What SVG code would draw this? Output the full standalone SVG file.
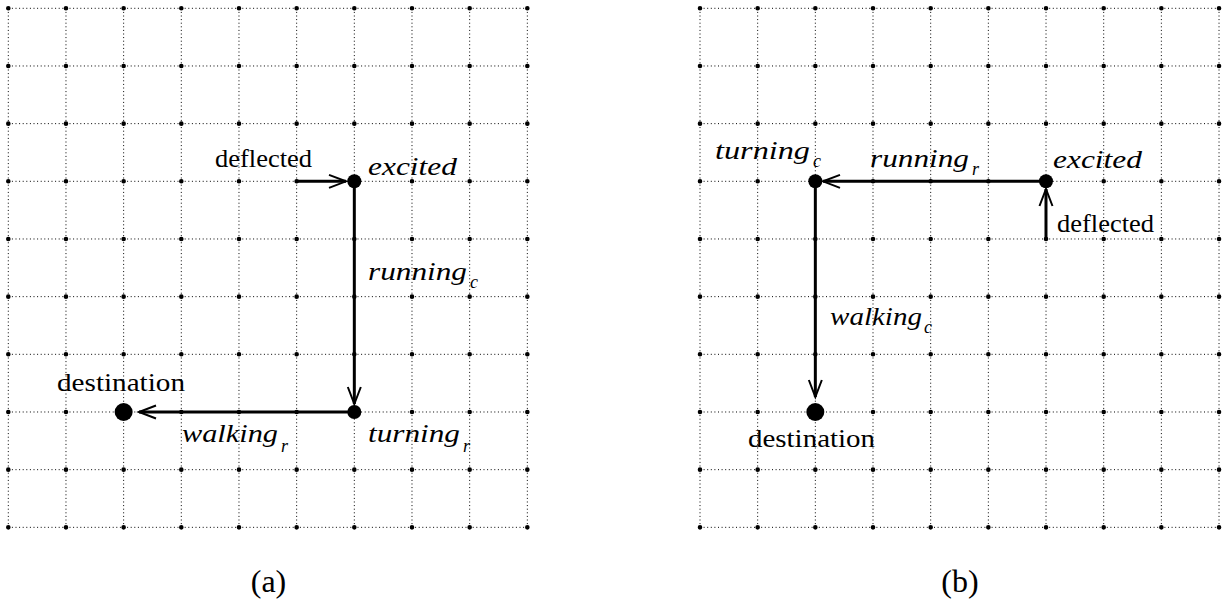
<svg xmlns="http://www.w3.org/2000/svg" xmlns:xlink="http://www.w3.org/1999/xlink" width="1225" height="599" viewBox="0 0 1225 599">
<style>
.gl{fill:none;stroke:#000;stroke-width:1;stroke-dasharray:1 2.6}
.gd{fill:none;stroke:#000;stroke-width:4.6;stroke-linecap:round;stroke-dasharray:0 57.67}
.edge{fill:none;stroke:#000;stroke-width:3}
.node{fill:#000}
text{font-family:'Liberation Serif','Times New Roman','DejaVu Serif',serif;fill:#000}
.rm{font-size:26px}
.it{font-size:26px;font-style:italic}
.sub{font-size:18px;font-style:italic}
.cap{font-size:32px}
</style>
<defs>
<marker id="arr" markerUnits="userSpaceOnUse" orient="auto" refX="0" refY="0" markerWidth="20" markerHeight="20" overflow="visible">
<path d="M-17,-6.5 L0,0 L-17,6.5" fill="none" stroke="#000" stroke-width="2"/>
</marker>
<g id="grid">
<path class="gl" d="M8.3 8.3H527.33M8.3 65.97H527.33M8.3 123.64H527.33M8.3 181.31H527.33M8.3 238.98H527.33M8.3 296.65H527.33M8.3 354.32H527.33M8.3 411.99H527.33M8.3 469.66H527.33M8.3 527.33H527.33"/>
<path class="gl" d="M8.3 8.3V527.33M65.97 8.3V527.33M123.64 8.3V527.33M181.31 8.3V527.33M238.98 8.3V527.33M296.65 8.3V527.33M354.32 8.3V527.33M411.99 8.3V527.33M469.66 8.3V527.33M527.33 8.3V527.33"/>
<path class="gd" d="M8.3 8.3H527.4M8.3 65.97H527.4M8.3 123.64H527.4M8.3 181.31H527.4M8.3 238.98H527.4M8.3 296.65H527.4M8.3 354.32H527.4M8.3 411.99H527.4M8.3 469.66H527.4M8.3 527.33H527.4"/>
</g>
</defs>
<rect width="1225" height="599" fill="#fff"/>
<g id="grid-a"><use href="#grid" xlink:href="#grid"/></g>
<g id="grid-b"><use href="#grid" xlink:href="#grid" transform="translate(691.7,0)"/></g>

<g id="connectors">
<path class="edge" d="M296.65 181.31H346" marker-end="url(#arr)"/>
<path class="edge" d="M354.32 181.31V404" marker-end="url(#arr)"/>
<path class="edge" d="M354.32 411.99H139" marker-end="url(#arr)"/>
<path class="edge" d="M1045.99 181.31H823" marker-end="url(#arr)"/>
<path class="edge" d="M1045.99 238.98V189" marker-end="url(#arr)"/>
<path class="edge" d="M815.34 181.31V397" marker-end="url(#arr)"/>
</g>

<g id="a-excited"><circle class="node" cx="354.32" cy="181.31" r="7"/><text class="it" x="368" y="175" textLength="89" lengthAdjust="spacingAndGlyphs">excited</text></g>
<g id="a-turning"><circle class="node" cx="354.32" cy="411.99" r="7"/><text class="it" x="368" y="442" textLength="92" lengthAdjust="spacingAndGlyphs">turning</text><text class="sub" x="463" y="452">r</text></g>
<g id="a-destination"><circle class="node" cx="123.64" cy="411.99" r="9"/><text class="rm" x="57" y="391" textLength="128" lengthAdjust="spacingAndGlyphs">destination</text></g>
<g id="a-labels">
<text class="rm" x="215" y="167" textLength="97" lengthAdjust="spacingAndGlyphs">deflected</text>
<text class="it" x="368" y="280" textLength="99" lengthAdjust="spacingAndGlyphs">running</text><text class="sub" x="470" y="288">c</text>
<text class="it" x="182" y="442" textLength="96" lengthAdjust="spacingAndGlyphs">walking</text><text class="sub" x="281" y="452">r</text>
</g>

<g id="b-excited"><circle class="node" cx="1045.99" cy="181.31" r="7"/><text class="it" x="1053" y="168" textLength="89" lengthAdjust="spacingAndGlyphs">excited</text></g>
<g id="b-turning"><circle class="node" cx="815.34" cy="181.31" r="7"/><text class="it" x="715" y="159" textLength="95" lengthAdjust="spacingAndGlyphs">turning</text><text class="sub" x="813" y="167">c</text></g>
<g id="b-destination"><circle class="node" cx="815.34" cy="411.99" r="9"/><text class="rm" x="748" y="447" textLength="127" lengthAdjust="spacingAndGlyphs">destination</text></g>
<g id="b-labels">
<text class="rm" x="1057" y="232" textLength="97" lengthAdjust="spacingAndGlyphs">deflected</text>
<text class="it" x="870" y="167" textLength="99" lengthAdjust="spacingAndGlyphs">running</text><text class="sub" x="972" y="175">r</text>
<text class="it" x="830" y="325" textLength="92" lengthAdjust="spacingAndGlyphs">walking</text><text class="sub" x="924" y="333">c</text>
</g>

<g id="captions">
<text class="cap" x="268.5" y="592" text-anchor="middle">(a)</text>
<text class="cap" x="960" y="592" text-anchor="middle">(b)</text>
</g>
</svg>
